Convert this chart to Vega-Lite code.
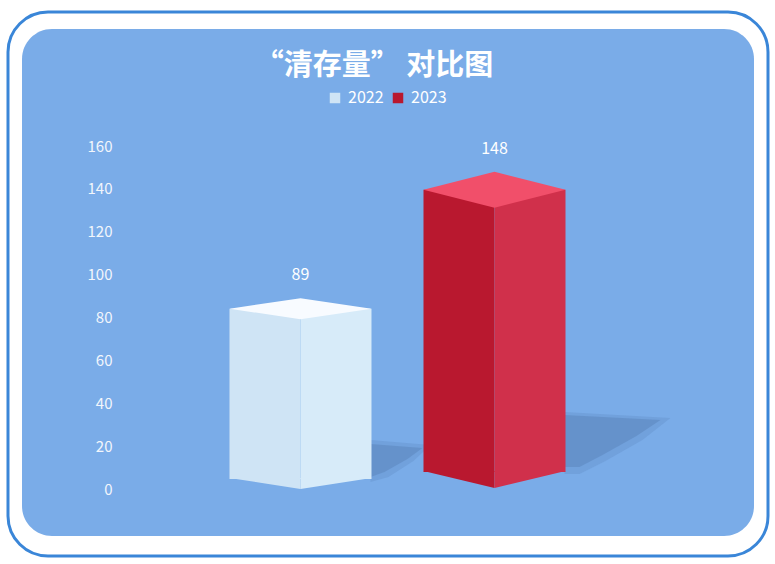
{
  "$schema": "https://vega.github.io/schema/vega-lite/v6.json",
  "autosize": {"type": "none"},
  "width": 732,
  "height": 507,
  "padding": {"left": 22, "top": 29, "right": 21, "bottom": 28},
  "background": "white",
  "title": {
    "text": "“清存量” 对比图",
    "font": "Noto Sans CJK SC",
    "fontSize": 29,
    "fontWeight": "bold",
    "color": "white",
    "anchor": "middle",
    "frame": "group",
    "offset": -70,
    "dx": -14
  },
  "config": {
    "view": {"fill": "#7aace8", "stroke": null, "cornerRadius": 30},
    "axis": {"domain": false, "ticks": false, "grid": false, "tickSize": 0},
    "text": {"font": "Noto Sans CJK SC"}
  },
  "data": {
    "values": [
      {"year": "2022", "value": 89},
      {"year": "2023", "value": 148}
    ]
  },
  "encoding": {
    "x": {
      "field": "year",
      "type": "nominal",
      "scale": {"paddingInner": 0, "paddingOuter": 0.8866, "align": 0.5276},
      "axis": null
    },
    "y": {
      "field": "value",
      "type": "quantitative",
      "scale": {"domain": [-21.92, 214.58], "nice": false, "zero": false},
      "axis": {
        "title": null,
        "values": [0, 20, 40, 60, 80, 100, 120, 140, 160],
        "offset": -98,
        "labelPadding": 8,
        "labelColor": "#f2f6fc",
        "labelFont": "Noto Sans CJK SC",
        "labelFontSize": 15
      }
    }
  },
  "layer": [
    {
      "data": {"values": [{}]},
      "mark": {
        "type": "rect",
        "fill": null,
        "stroke": "#3a86d8",
        "strokeWidth": 3,
        "cornerRadius": 40,
        "xOffset": -14,
        "x2Offset": 14,
        "yOffset": -17,
        "y2Offset": 20,
        "clip": false
      },
      "encoding": {
        "x": {"value": 0},
        "x2": {"value": "width"},
        "y": {"value": 0},
        "y2": {"value": "height"}
      }
    },
    {
      "transform": [{"filter": "datum.year == '2022'"}],
      "mark": {"type": "point", "filled": true, "size": 40000, "fill": "#5d88c0", "opacity": 0.3, "strokeWidth": 0, "shape": "M0.70,-0.49L1.30,-0.44L1.13,-0.28L0.88,-0.12L0.70,-0.07Z"},
      "encoding": {"y": {"datum": 0, "type": "quantitative"}}
    },
    {
      "transform": [{"filter": "datum.year == '2022'"}],
      "mark": {"type": "point", "filled": true, "size": 40000, "fill": "#5d88c0", "opacity": 0.6, "strokeWidth": 0, "shape": "M0.70,-0.45L1.22,-0.41L1.07,-0.30L0.84,-0.17L0.70,-0.12Z"},
      "encoding": {"y": {"datum": 0, "type": "quantitative"}}
    },
    {
      "transform": [{"filter": "datum.year == '2023'"}],
      "mark": {"type": "point", "filled": true, "size": 40000, "fill": "#5d88c0", "opacity": 0.3, "strokeWidth": 0, "shape": "M0.70,-0.77L1.76,-0.71L1.48,-0.49L1.11,-0.28L0.85,-0.15L0.70,-0.15Z"},
      "encoding": {"y": {"datum": 0, "type": "quantitative"}}
    },
    {
      "transform": [{"filter": "datum.year == '2023'"}],
      "mark": {"type": "point", "filled": true, "size": 40000, "fill": "#5d88c0", "opacity": 0.6, "strokeWidth": 0, "shape": "M0.70,-0.74L1.66,-0.69L1.42,-0.53L1.08,-0.34L0.85,-0.22L0.70,-0.22Z"},
      "encoding": {"y": {"datum": 0, "type": "quantitative"}}
    },
    {
      "transform": [{"filter": "datum.year == '2022'"}],
      "mark": {"type": "bar", "width": 71, "xOffset": -35.5, "yOffset": 10.5, "y2Offset": -10},
      "encoding": {
        "y2": {"datum": 0},
        "color": {
          "field": "year",
          "type": "nominal",
          "scale": {"domain": ["2022", "2023"], "range": ["#cfe4f5", "#b9182f"]},
          "legend": {
            "orient": "none",
            "legendX": 305,
            "legendY": 61,
            "padding": 0,
            "direction": "horizontal",
            "title": null,
            "symbolType": "square",
            "symbolSize": 110,
            "symbolStrokeWidth": 0,
            "labelColor": "white",
            "labelFont": "Noto Sans CJK SC",
            "labelFontSize": 16,
            "labelOffset": 5,
            "columnPadding": 6
          }
        }
      }
    },
    {
      "transform": [{"filter": "datum.year == '2023'"}],
      "mark": {"type": "bar", "width": 71, "xOffset": -35.5, "yOffset": 18, "y2Offset": -17},
      "encoding": {
        "y2": {"datum": 0},
        "color": {"field": "year", "type": "nominal"}
      }
    },
    {
      "transform": [{"filter": "datum.year == '2022'"}],
      "mark": {"type": "bar", "width": 71, "xOffset": 35.5, "yOffset": 10.5, "y2Offset": -10, "color": "#d7ebf9"},
      "encoding": {"y2": {"datum": 0}}
    },
    {
      "transform": [{"filter": "datum.year == '2023'"}],
      "mark": {"type": "bar", "width": 71, "xOffset": 35.5, "yOffset": 18, "y2Offset": -17, "color": "#d0304b"},
      "encoding": {"y2": {"datum": 0}}
    },
    {
      "transform": [{"filter": "datum.year == '2022'"}],
      "mark": {"type": "point", "filled": true, "opacity": 1, "strokeWidth": 0, "size": 20164, "yOffset": -11, "color": "#cfe4f5", "shape": "M-1,0L0,0L0,0.155Z"},
      "encoding": {"y": {"datum": 0, "type": "quantitative"}}
    },
    {
      "transform": [{"filter": "datum.year == '2022'"}],
      "mark": {"type": "point", "filled": true, "opacity": 1, "strokeWidth": 0, "size": 20164, "yOffset": -11, "color": "#d7ebf9", "shape": "M0,0L1,0L0,0.155Z"},
      "encoding": {"y": {"datum": 0, "type": "quantitative"}}
    },
    {
      "transform": [{"filter": "datum.year == '2023'"}],
      "mark": {"type": "point", "filled": true, "opacity": 1, "strokeWidth": 0, "size": 20164, "yOffset": -18, "color": "#b9182f", "shape": "M-1,0L0,0L0,0.24Z"},
      "encoding": {"y": {"datum": 0, "type": "quantitative"}}
    },
    {
      "transform": [{"filter": "datum.year == '2023'"}],
      "mark": {"type": "point", "filled": true, "opacity": 1, "strokeWidth": 0, "size": 20164, "yOffset": -18, "color": "#d0304b", "shape": "M0,0L1,0L0,0.24Z"},
      "encoding": {"y": {"datum": 0, "type": "quantitative"}}
    },
    {
      "transform": [{"filter": "datum.year == '2022'"}],
      "mark": {"type": "point", "filled": true, "opacity": 1, "strokeWidth": 0, "size": 20164, "yOffset": 10.5, "color": "#f8fbff", "shape": "M-1,0L0,-0.148L1,0L0,0.148Z"}
    },
    {
      "transform": [{"filter": "datum.year == '2023'"}],
      "mark": {"type": "point", "filled": true, "opacity": 1, "strokeWidth": 0, "size": 20164, "yOffset": 18, "color": "#f14f6a", "shape": "M-1,0L0,-0.254L1,0L0,0.254Z"}
    },
    {
      "mark": {"type": "text", "dy": -23, "baseline": "middle", "fontSize": 16, "color": "white"},
      "encoding": {"text": {"field": "value", "type": "quantitative"}}
    }
  ]
}
